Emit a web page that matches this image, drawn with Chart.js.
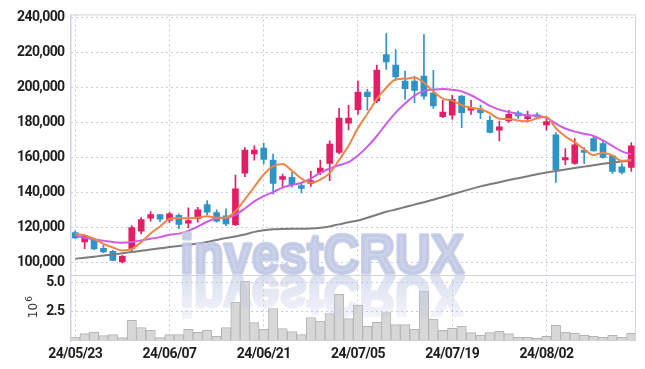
<!DOCTYPE html>
<html>
<head>
<meta charset="utf-8">
<script src="https://cdn.jsdelivr.net/npm/chart.js@4.4.1/dist/chart.umd.min.js"></script>
<style>
  html, body { margin: 0; padding: 0; background: #fff; }
  #wrap { width: 645px; height: 369px; }
</style>
</head>
<body>
<div id="wrap"><canvas id="chart"></canvas></div>
<script>
const dates = ["24/05/23","24/05/24","24/05/27","24/05/28","24/05/29","24/05/30","24/05/31","24/06/03","24/06/04","24/06/05",
  "24/06/07","24/06/10","24/06/11","24/06/12","24/06/13","24/06/14","24/06/17","24/06/18","24/06/19","24/06/20",
  "24/06/21","24/06/24","24/06/25","24/06/26","24/06/27","24/06/28","24/07/01","24/07/02","24/07/03","24/07/04",
  "24/07/05","24/07/08","24/07/09","24/07/10","24/07/11","24/07/12","24/07/15","24/07/16","24/07/17","24/07/18",
  "24/07/19","24/07/22","24/07/23","24/07/24","24/07/25","24/07/26","24/07/29","24/07/30","24/07/31","24/08/01",
  "24/08/02","24/08/05","24/08/06","24/08/07","24/08/08","24/08/09","24/08/12","24/08/13","24/08/14","24/08/16"];

const opens = [117000,111600,112900,108000,106300,100200,107800,117800,125200,127300,123900,126900,122400,124900,133000,128500,126600,121500,151000,161900,165300,158400,147400,148600,143800,145100,151200,156500,162800,179500,187300,197300,192200,218800,212700,203600,203600,206400,196800,183300,184100,195000,186900,187800,181200,175500,180800,185500,182100,184000,178500,172900,158600,156500,163500,170700,167900,160900,154600,154200];
const highs = [118000,115900,113200,109700,106800,104000,121000,125600,129000,127500,128600,127700,131100,131500,135300,130000,130600,149900,165600,166600,168100,161900,150500,151400,145700,152000,158500,169400,188000,189800,203600,198900,212700,230700,221600,209300,206400,230200,209700,192600,195500,195500,192600,189900,183700,180800,186900,186500,186500,185500,182700,174200,165000,170700,165600,172300,169400,161000,156500,168500];
const lows = [113500,107800,107400,105500,101000,99600,105900,116300,123500,123300,122600,119200,119700,122900,127300,122900,121000,121000,149000,158400,156200,139100,142900,142900,139700,143400,150100,146700,161900,175700,184600,186900,191200,210200,204000,193200,191200,193200,188000,182700,181800,177000,184600,182100,174000,169400,179900,182300,180300,182800,175500,145700,155800,156000,156500,163500,159500,150800,150500,152000];
const closes = [114000,115400,107600,105900,101100,103400,119900,124500,127300,124600,127700,121600,123900,130000,128600,123500,122000,142000,164100,164100,158800,145100,149000,144400,142300,146700,153900,167600,182400,182400,197300,194700,209900,214600,206000,199200,198300,195000,189400,185900,193200,185500,187800,185500,174200,177400,184600,183700,183100,183100,180400,152900,159900,167200,162800,163700,159900,152000,151400,166600];

const ma5 = [116300,115400,113500,110600,108500,106700,107600,111500,116500,120500,124800,125300,125200,125600,126400,125500,125600,129200,136000,143100,150200,154800,156200,152300,147900,145500,147300,151000,158600,166600,176700,184900,193300,199800,204500,204900,205600,202600,197600,193600,192400,189800,188400,187600,185200,182100,181900,181100,180600,182400,183000,176600,171900,168700,164600,161300,162700,161100,158000,158700];
const ma10 = [115400,114100,113100,112300,111600,111200,111600,112500,113500,114400,115800,116400,118000,120400,123200,125200,125400,127100,130800,134800,137900,140200,142700,144200,145500,147900,151100,153600,155500,157300,161100,166100,172200,179200,185600,190800,195300,198000,198700,199100,198700,197700,195500,192600,189400,187300,185900,184800,184100,183800,182600,179300,176500,174700,173500,172200,169700,166500,163400,161700];
const maLong = [102100,102600,103200,103900,104500,105200,105900,106600,107300,108000,108700,109300,110000,110800,111600,112800,113900,114800,115900,117400,118400,118900,119100,119200,119200,119300,119700,120500,121700,122900,123900,125500,127200,128900,130200,131600,133000,134300,135800,137300,138900,140400,142000,143400,144600,145800,147000,148100,149200,150300,151300,152200,153100,153900,154700,155500,156300,157000,157600,158100];

// volume in millions of shares
const volumes = [0.34,0.63,0.77,0.46,0.54,0.29,1.77,1.14,0.91,0.29,0.54,0.54,1.0,0.74,0.91,0.4,1.14,3.31,5.11,1.57,1.0,2.77,1.06,0.8,0.54,2.0,1.69,2.34,3.97,1.91,3.06,1.26,1.6,2.43,1.4,1.4,1.0,4.26,1.86,0.91,1.09,1.26,0.71,0.49,0.71,0.83,0.63,0.31,0.31,0.23,0.4,1.34,0.74,0.66,0.49,0.4,0.31,0.49,0.31,0.66];

const priceTicks = [100000,120000,140000,160000,180000,200000,220000,240000];
const volTicks = [2.5, 5.0];

const upColor = '#e31e64';
const downColor = '#2e93c6';
const gridColor = '#c9cbdc';
const frameColor = '#d2d3dc';
const tickFont = { family: 'Roboto, "Liberation Sans", sans-serif', size: 14, weight: 'bold' };

const candleColors = closes.map((c, i) => c >= opens[i] ? upColor : downColor);

const framePlugin = {
  id: 'frame',
  beforeDraw(chart) {
    chart.ctx.letterSpacing = '-0.6px';
  },
  afterDatasetsDraw(chart) {
    const { ctx, chartArea: a, scales } = chart;
    ctx.save();
    ctx.letterSpacing = '0px';
    ctx.strokeStyle = frameColor;
    ctx.lineWidth = 1;
    ctx.strokeRect(a.left + 0.5, a.top + 0.5, a.right - a.left - 1, a.bottom - a.top - 1);
    ctx.beginPath();
    ctx.moveTo(a.left, Math.round(scales.yv.top) + 0.5);
    ctx.lineTo(a.right, Math.round(scales.yv.top) + 0.5);
    ctx.stroke();

    // watermark and its reflection
    const text = 'investCRUX';
    const base = scales.yv.top;
    const left = 180, width = 284;
    ctx.font = 'bold 56px "Liberation Sans", Arial, sans-serif';
    const sx = width / ctx.measureText(text).width;
    const wmColor = 'rgb(190,199,227)';
    ctx.save();
    ctx.translate(left, base - 2);
    ctx.scale(sx, 1);
    ctx.globalAlpha = 0.82;
    ctx.fillStyle = wmColor;
    ctx.strokeStyle = wmColor;
    ctx.lineWidth = 3.5;
    ctx.lineJoin = 'round';
    ctx.strokeText(text, 0, 0);
    ctx.fillText(text, 0, 0);
    ctx.restore();

    const off = document.createElement('canvas');
    off.width = width + 10; off.height = 60;
    const o = off.getContext('2d');
    o.font = ctx.font;
    o.save();
    o.translate(2, 1);
    o.scale(sx, -1);
    o.fillStyle = wmColor;
    o.strokeStyle = wmColor;
    o.lineWidth = 3.5;
    o.lineJoin = 'round';
    o.strokeText(text, 0, 0);
    o.fillText(text, 0, 0);
    o.restore();
    o.globalCompositeOperation = 'destination-in';
    const g = o.createLinearGradient(0, 0, 0, 50);
    g.addColorStop(0, 'rgba(0,0,0,0.55)');
    g.addColorStop(1, 'rgba(0,0,0,0.12)');
    o.fillStyle = g;
    o.fillRect(0, 0, off.width, off.height);
    ctx.drawImage(off, left - 2, base + 1);

    // exponent label of the volume axis
    ctx.fillStyle = '#333';
    ctx.translate(37, (scales.yv.top + scales.yv.bottom) / 2 + 10);
    ctx.rotate(-Math.PI / 2);
    ctx.font = '12px "DejaVu Sans", sans-serif';
    ctx.textBaseline = 'alphabetic';
    ctx.fillText('10', 0, 0);
    const w10 = ctx.measureText('10').width;
    ctx.font = '9px "DejaVu Sans", sans-serif';
    ctx.fillText('6', w10 + 1, -5);
    ctx.restore();
  }
};

const data = {
  labels: dates,
  datasets: [
    { type: 'line', label: 'MA5', data: ma5, borderColor: '#ef8549', borderWidth: 2, pointRadius: 0, cubicInterpolationMode: 'monotone', yAxisID: 'y' },
    { type: 'line', label: 'MA10', data: ma10, borderColor: '#cc5ce6', borderWidth: 2, pointRadius: 0, cubicInterpolationMode: 'monotone', yAxisID: 'y' },
    { type: 'line', label: 'MA60', data: maLong, borderColor: '#7c7c7c', borderWidth: 2, pointRadius: 0, cubicInterpolationMode: 'monotone', yAxisID: 'y' },
    { type: 'bar', label: 'body', data: opens.map((o, i) => [o, closes[i]]), backgroundColor: candleColors, barThickness: 6, minBarLength: 2, grouped: false, yAxisID: 'y' },
    { type: 'bar', label: 'wick', data: lows.map((l, i) => [l, highs[i]]), backgroundColor: candleColors, barThickness: 1, grouped: false, yAxisID: 'y' },
    { type: 'bar', label: 'volume', data: volumes, backgroundColor: '#d7d7d7', borderColor: '#b4b4b4', borderWidth: 1, barPercentage: 1, categoryPercentage: 1, grouped: false, yAxisID: 'yv' }
  ]
};

const options = {
  responsive: false,
  animation: false,
  layout: { padding: { top: 13, right: 9, left: 0, bottom: 0 } },
  plugins: { legend: { display: false }, tooltip: { enabled: false } },
  scales: {
    x: {
      type: 'category',
      offset: true,
      grid: { offset: false, drawTicks: false, color: c => (c.index % 10 === 0 ? gridColor : 'rgba(0,0,0,0)') },
      border: { display: false, dash: [2, 3] },
      ticks: { autoSkip: false, maxRotation: 0, padding: 5, color: '#1e1e1e', font: tickFont,
        callback: (v, i) => (i % 10 === 0 ? dates[i] : '') },
      afterFit: s => { s.height = 28; }
    },
    yv: {
      type: 'linear', position: 'left', stack: 'panes', stackWeight: 66, weight: 1,
      min: 0, max: 5.6,
      afterBuildTicks: s => { s.ticks = volTicks.map(v => ({ value: v })); },
      grid: { color: gridColor, drawTicks: false },
      border: { color: frameColor, dash: [2, 3] },
      ticks: { padding: 6, color: '#1e1e1e', font: tickFont, callback: v => v.toFixed(1) },
      afterFit: s => { s.width = 70.5; }
    },
    y: {
      type: 'linear', position: 'left', stack: 'panes', stackWeight: 262, weight: 2,
      min: 92600, max: 241700,
      afterBuildTicks: s => { s.ticks = priceTicks.map(v => ({ value: v })); },
      grid: { color: gridColor, drawTicks: false },
      border: { color: frameColor, dash: [2, 3] },
      ticks: { padding: 6, color: '#1e1e1e', font: tickFont, callback: v => v.toLocaleString('en-US') },
      afterFit: s => { s.width = 70.5; }
    }
  }
};

const canvas = document.getElementById('chart');
canvas.width = 645;
canvas.height = 369;
new Chart(canvas.getContext('2d'), { type: 'bar', data: data, options: options, plugins: [framePlugin] });
</script>
</body>
</html>
